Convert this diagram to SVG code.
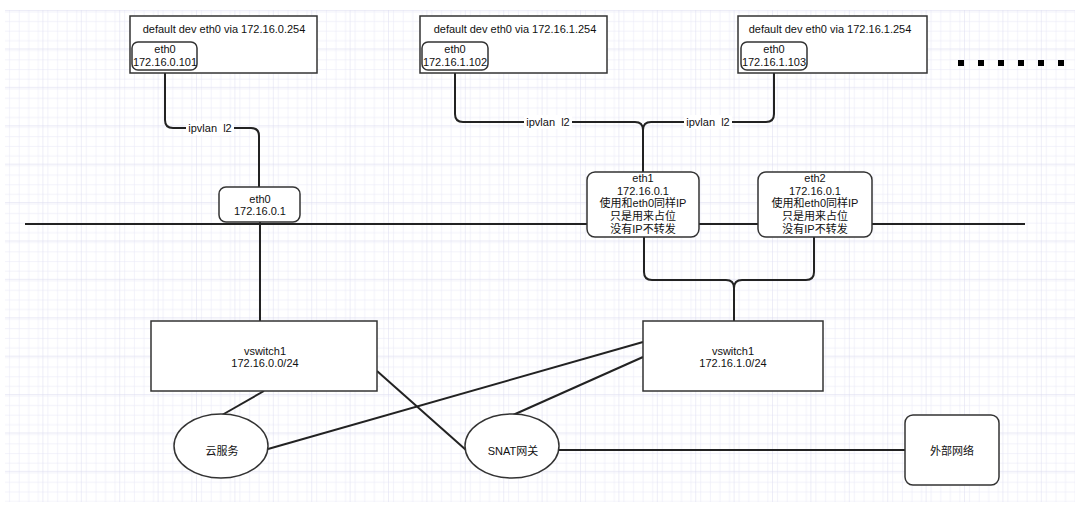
<svg xmlns="http://www.w3.org/2000/svg" width="1080" height="508" viewBox="0 0 1080 508">
<defs>
<pattern id="minor" x="5" y="11" width="9.6" height="9.6" patternUnits="userSpaceOnUse">
<path d="M9.6,0 V9.6 M0,9.6 H9.6" fill="none" stroke="#e6e6f6" stroke-width="1"/>
</pattern>
<pattern id="major" x="5" y="11" width="38.4" height="38.4" patternUnits="userSpaceOnUse">
<rect width="38.4" height="38.4" fill="url(#minor)"/>
<path d="M38.4,0 V38.4 M0,38.4 H38.4" fill="none" stroke="#dcdcf0" stroke-width="1"/>
</pattern>
<style>
text{font-family:"Liberation Sans","Noto Sans CJK SC",Arial,sans-serif;font-size:11px;fill:#111;text-anchor:middle}
.box{fill:#fff;stroke:#333;stroke-width:1.5}
.ln{fill:none;stroke:#222;stroke-width:2}
.lbl{fill:#fff}
.dot{fill:#000}
</style>
</defs>
<rect width="1080" height="508" fill="#fff"/>
<rect x="5" y="10" width="1070" height="492" fill="url(#major)"/>

<g id="connectors">
<path class="ln" d="M165,70 V120 Q165,128 173,128 H251 Q259,128 259,136 V187"/>
<path class="ln" d="M455,70 V114 Q455,122 463,122 H635 Q643,122 643,130 V172"/>
<path class="ln" d="M774,70 V114 Q774,122 766,122 H651 Q643,122 643,130"/>
<path class="ln" d="M25,224 H1025"/>
<path class="ln" d="M260,222 V321"/>
<path class="ln" d="M644,237 V272 Q644,280 652,280 H726 Q734,280 734,288 V321"/>
<path class="ln" d="M814,237 V272 Q814,280 806,280 H742 Q734,280 734,288"/>
<path class="ln" d="M264,391 L222,415"/>
<path class="ln" d="M268,449 L643,342"/>
<path class="ln" d="M513,415 L643,357"/>
<path class="ln" d="M377,371 L466,450"/>
<path class="ln" d="M559,450 H905"/>
<rect class="lbl" x="186" y="121" width="48" height="14"/>
<text x="210" y="132" xml:space="preserve">ipvlan  l2</text>
<rect class="lbl" x="524" y="115" width="48" height="14"/>
<text x="548" y="126" xml:space="preserve">ipvlan  l2</text>
<rect class="lbl" x="684" y="115" width="48" height="14"/>
<text x="708" y="126" xml:space="preserve">ipvlan  l2</text>
</g>

<g id="host1">
<rect class="box" x="130" y="16" width="187" height="57"/>
<text x="224" y="33">default dev eth0 via 172.16.0.254</text>
<rect class="box" x="132" y="42" width="65" height="28" rx="6"/>
<text x="165" y="53">eth0</text>
<text x="165" y="66">172.16.0.101</text>
</g>

<g id="host2">
<rect class="box" x="420" y="16" width="187" height="57"/>
<text x="515" y="33">default dev eth0 via 172.16.1.254</text>
<rect class="box" x="422" y="42" width="66" height="28" rx="6"/>
<text x="455" y="53">eth0</text>
<text x="455" y="66">172.16.1.102</text>
</g>

<g id="host3">
<rect class="box" x="738" y="16" width="189" height="57"/>
<text x="830" y="33">default dev eth0 via 172.16.1.254</text>
<rect class="box" x="741" y="42" width="66" height="28" rx="6"/>
<text x="774" y="53">eth0</text>
<text x="774" y="66">172.16.1.103</text>
</g>

<g id="more">
<rect class="dot" x="958" y="60" width="6" height="6"/>
<rect class="dot" x="978" y="60" width="6" height="6"/>
<rect class="dot" x="998" y="60" width="6" height="6"/>
<rect class="dot" x="1018" y="60" width="6" height="6"/>
<rect class="dot" x="1038" y="60" width="6" height="6"/>
<rect class="dot" x="1058" y="60" width="6" height="6"/>
</g>

<g id="eth0-gw">
<rect class="box" x="219" y="187" width="81" height="35" rx="7"/>
<text x="260" y="203">eth0</text>
<text x="260" y="215">172.16.0.1</text>
</g>

<g id="eth1">
<rect class="box" x="587" y="172" width="112" height="65" rx="8"/>
<text x="643" y="182">eth1</text>
<text x="643" y="195">172.16.0.1</text>
<text x="643" y="207">使用和eth0同样IP</text>
<text x="643" y="220">只是用来占位</text>
<text x="643" y="233">没有IP不转发</text>
</g>

<g id="eth2">
<rect class="box" x="758" y="172" width="114" height="65" rx="8"/>
<text x="815" y="182">eth2</text>
<text x="815" y="195">172.16.0.1</text>
<text x="815" y="207">使用和eth0同样IP</text>
<text x="815" y="220">只是用来占位</text>
<text x="815" y="233">没有IP不转发</text>
</g>

<g id="vswitch-a">
<rect class="box" x="151" y="321" width="226" height="70"/>
<text x="265" y="355">vswitch1</text>
<text x="265" y="367">172.16.0.0/24</text>
</g>

<g id="vswitch-b">
<rect class="box" x="643" y="321" width="180" height="70"/>
<text x="733" y="355">vswitch1</text>
<text x="733" y="367">172.16.1.0/24</text>
</g>

<g id="cloud">
<ellipse class="box" cx="221" cy="446" rx="47" ry="32"/>
<text x="222" y="455">云服务</text>
</g>

<g id="snat">
<ellipse class="box" cx="512" cy="446" rx="47" ry="32"/>
<text x="513" y="455">SNAT网关</text>
</g>

<g id="external">
<rect class="box" x="905" y="415" width="94" height="70" rx="8"/>
<text x="952" y="455">外部网络</text>
</g>
</svg>
